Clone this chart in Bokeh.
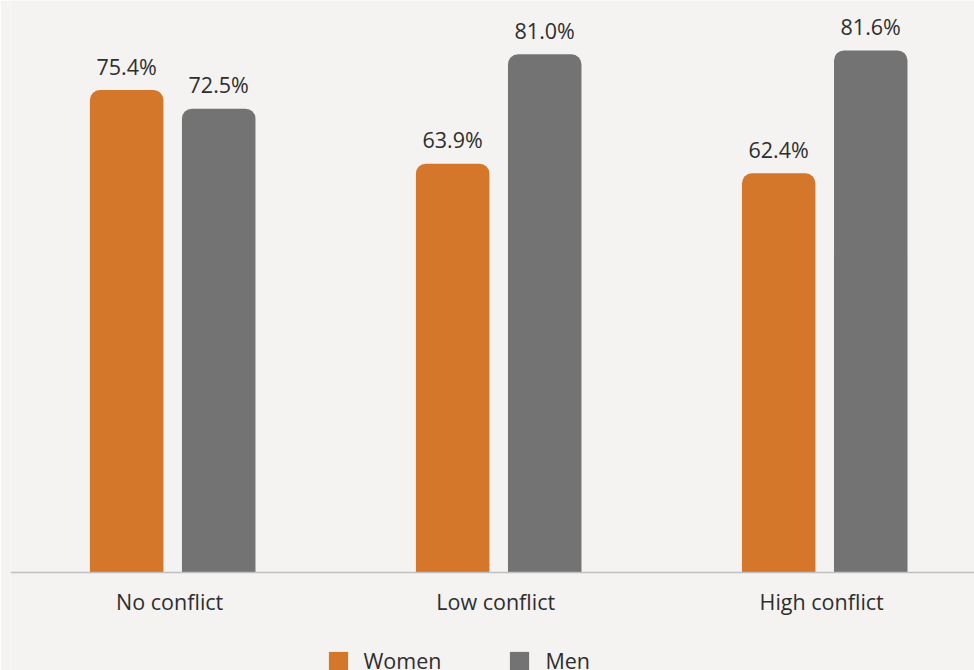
from bokeh.plotting import figure
from bokeh.models import ColumnDataSource, LabelSet, Legend, LegendItem, Range1d, Span
from bokeh.transform import dodge
from bokeh.core.properties import value
from bokeh.embed import file_html
from bokeh.resources import INLINE

categories = ["No conflict", "Low conflict", "High conflict"]
women = [75.4, 63.9, 62.4]
men = [72.5, 81.0, 81.6]

FONT = "Open Sans"
FS = "21.5px"
BG = "#f4f3f1"
ORANGE = "#d4772a"
GRAY = "#737373"
TEXT = "#2e2e2e"

xs = list(range(len(categories)))
src = ColumnDataSource(dict(
    x=xs,
    base=[0] * len(xs),
    cat=categories,
    women=women,
    men=men,
    women_lbl=[f"{v:.1f}%" for v in women],
    men_lbl=[f"{v:.1f}%" for v in men],
))

p = figure(width=974, height=670, output_backend="svg", toolbar_location=None,
           x_range=Range1d(-0.4975, 2.4595), y_range=Range1d(-15.3125, 89.4),
           x_axis_location=None, y_axis_location=None,
           min_border_left=10, min_border_right=0, min_border_top=0,
           min_border_bottom=0)
p.background_fill_color = BG
p.border_fill_color = BG
p.outline_line_color = None
p.grid.visible = False

W = 0.2255
OFF = 0.1412
rw = p.vbar(x=dodge("x", -OFF, range=p.x_range), top="women", width=W, bottom=0,
            source=src, fill_color=ORANGE, line_color=None,
            border_radius=(10, 10, 0, 0))
rm = p.vbar(x=dodge("x", OFF, range=p.x_range), top="men", width=W, bottom=0,
            source=src, fill_color=GRAY, line_color=None,
            border_radius=(10, 10, 0, 0))

for col, lbl, off in (("women", "women_lbl", -OFF), ("men", "men_lbl", OFF)):
    ls = LabelSet(x=dodge("x", off, range=p.x_range), y=col, text=lbl, source=src,
                  text_align="center", text_baseline="alphabetic", y_offset=15.5,
                  text_font=value(FONT), text_font_size=value(FS), text_color=TEXT)
    p.add_layout(ls)

# baseline (axis line) and category labels
p.add_layout(Span(location=0, dimension="width", line_color="#bfbfbf", line_width=1.5))
cats = LabelSet(x="x", y="base", text="cat", source=src, x_offset=-3,
                text_align="center", text_baseline="alphabetic", y_offset=-37,
                text_font=value(FONT), text_font_size=value(FS), text_color=TEXT)
p.add_layout(cats)

legend = Legend(items=[LegendItem(label="Women", renderers=[rw]),
                       LegendItem(label="Men", renderers=[rm])],
                orientation="horizontal", location=(315.5, -5),
                glyph_width=24, glyph_height=24, label_height=19,
                label_standoff=14, spacing=66, padding=0, margin=0,
                label_text_font=FONT, label_text_font_size=FS,
                label_text_color=TEXT, background_fill_alpha=0,
                border_line_color=None)
p.add_layout(legend, "center")

open("out.html", "w").write(file_html(p, INLINE))
